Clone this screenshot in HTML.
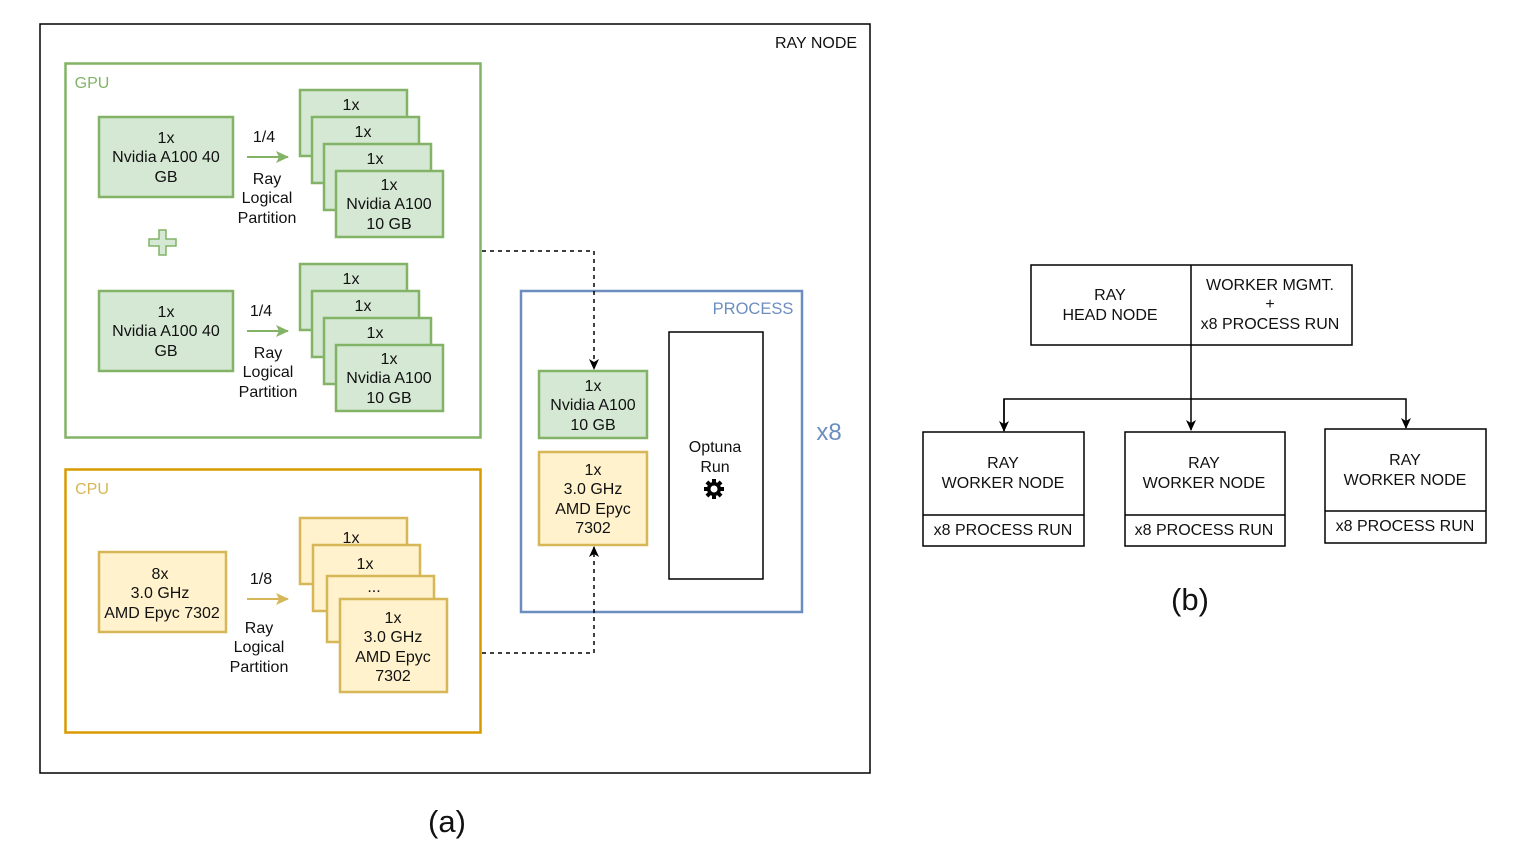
<!DOCTYPE html>
<html><head><meta charset="utf-8"><style>
html,body{margin:0;padding:0;background:#fff;}
svg{display:block;}
text{font-family:"Liberation Sans",Arial,sans-serif;font-size:16px;fill:#111;text-anchor:middle;}
</style></head><body>
<svg width="1526" height="864" viewBox="0 0 1526 864" xmlns="http://www.w3.org/2000/svg">
<defs>
<marker id="ab" markerWidth="12" markerHeight="12" refX="10" refY="6" orient="auto" markerUnits="userSpaceOnUse"><path d="M0,1 L11,6 L0,11 L3,6 z" fill="#000"/></marker>
<marker id="ag" markerWidth="14" markerHeight="14" refX="12" refY="7" orient="auto" markerUnits="userSpaceOnUse"><path d="M0,1 L13,7 L0,13 L3,7 z" fill="#82b366"/></marker>
<marker id="ay" markerWidth="14" markerHeight="14" refX="12" refY="7" orient="auto" markerUnits="userSpaceOnUse"><path d="M0,1 L13,7 L0,13 L3,7 z" fill="#d6b656"/></marker>
</defs>
<!-- (a) -->
<rect x="40" y="24" width="830" height="749" fill="none" stroke="#000" stroke-width="1.5"/>
<text x="816" y="48">RAY NODE</text>
<!-- GPU -->
<rect x="65.5" y="63.5" width="415" height="374" fill="none" stroke="#82b366" stroke-width="2.5"/>
<text x="92" y="88" style="fill:#82b366">GPU</text>
<g fill="#d5e8d4" stroke="#82b366" stroke-width="2.5">
<rect x="99" y="117" width="134" height="80"/>
<rect x="99" y="291" width="134" height="80"/>
<rect x="300" y="90" width="107" height="66"/>
<rect x="312" y="117" width="107" height="66"/>
<rect x="324" y="144" width="107" height="66"/>
<rect x="336" y="171" width="107" height="66"/>
<rect x="300" y="264" width="107" height="66"/>
<rect x="312" y="291" width="107" height="66"/>
<rect x="324" y="318" width="107" height="66"/>
<rect x="336" y="345" width="107" height="66"/>
<path d="M159,230 h7 v9 h10 v7 h-10 v9 h-7 v-9 h-10 v-7 h10 z" stroke-width="1.5"/>
</g>
<text x="166" y="143">1x</text><text x="166" y="162">Nvidia A100 40</text><text x="166" y="182">GB</text>
<text x="166" y="317">1x</text><text x="166" y="336">Nvidia A100 40</text><text x="166" y="356">GB</text>
<text x="351" y="110">1x</text><text x="363" y="137">1x</text><text x="375" y="164">1x</text>
<text x="389" y="190">1x</text><text x="389" y="209">Nvidia A100</text><text x="389" y="229">10 GB</text>
<text x="351" y="284">1x</text><text x="363" y="311">1x</text><text x="375" y="338">1x</text>
<text x="389" y="364">1x</text><text x="389" y="383">Nvidia A100</text><text x="389" y="403">10 GB</text>
<line x1="247" y1="157" x2="288" y2="157" stroke="#82b366" stroke-width="2" marker-end="url(#ag)"/>
<line x1="247" y1="331" x2="288" y2="331" stroke="#82b366" stroke-width="2" marker-end="url(#ag)"/>
<text x="264" y="142">1/4</text><text x="267" y="184">Ray</text><text x="267" y="203">Logical</text><text x="267" y="223">Partition</text>
<text x="261" y="316">1/4</text><text x="268" y="358">Ray</text><text x="268" y="377">Logical</text><text x="268" y="397">Partition</text>
<!-- CPU -->
<rect x="65.5" y="469.5" width="415" height="263" fill="none" stroke="#d79b00" stroke-width="2.5"/>
<text x="92" y="494" style="fill:#d6b656">CPU</text>
<g fill="#fff2cc" stroke="#d6b656" stroke-width="2.5">
<rect x="99" y="552" width="127" height="80"/>
<rect x="300" y="518" width="107" height="66"/>
<rect x="313" y="545" width="107" height="66"/>
<rect x="327" y="576" width="107" height="66"/>
<rect x="340" y="599" width="107" height="93"/>
</g>
<text x="160" y="579">8x</text><text x="160" y="598">3.0 GHz</text><text x="162" y="618">AMD Epyc 7302</text>
<text x="351" y="543">1x</text><text x="365" y="569">1x</text><text x="374" y="592">...</text>
<text x="393" y="623">1x</text><text x="393" y="642">3.0 GHz</text><text x="393" y="662">AMD Epyc</text><text x="393" y="681">7302</text>
<line x1="247" y1="599" x2="288" y2="599" stroke="#d6b656" stroke-width="2" marker-end="url(#ay)"/>
<text x="261" y="584">1/8</text><text x="259" y="633">Ray</text><text x="259" y="652">Logical</text><text x="259" y="672">Partition</text>
<!-- PROCESS -->
<rect x="521" y="291" width="281" height="321" fill="none" stroke="#6c8ebf" stroke-width="2.5"/>
<text x="753" y="314" style="fill:#6c8ebf;font-size:16.5px">PROCESS</text>
<text x="829" y="440" style="fill:#6c8ebf;font-size:24px">x8</text>
<rect x="539" y="371" width="108" height="67" fill="#d5e8d4" stroke="#82b366" stroke-width="2.5"/>
<rect x="539" y="452" width="108" height="93" fill="#fff2cc" stroke="#d6b656" stroke-width="2.5"/>
<text x="593" y="391">1x</text><text x="593" y="410">Nvidia A100</text><text x="593" y="430">10 GB</text>
<text x="593" y="475">1x</text><text x="593" y="494">3.0 GHz</text><text x="593" y="514">AMD Epyc</text><text x="593" y="533">7302</text>
<rect x="669" y="332" width="94" height="247" fill="none" stroke="#000" stroke-width="1.5"/>
<text x="715" y="452">Optuna</text><text x="715" y="472">Run</text>
<g transform="translate(714,489)" fill="#000">
<circle r="7"/>
<g><rect x="-2" y="-10" width="4" height="20"/><rect x="-2" y="-10" width="4" height="20" transform="rotate(45)"/><rect x="-2" y="-10" width="4" height="20" transform="rotate(90)"/><rect x="-2" y="-10" width="4" height="20" transform="rotate(135)"/></g>
<circle r="3.5" fill="#fff"/>
</g>
<path d="M482,251 H594 V369" fill="none" stroke="#000" stroke-width="1.5" stroke-dasharray="4,4" marker-end="url(#ab)"/>
<path d="M482,653 H594 V547" fill="none" stroke="#000" stroke-width="1.5" stroke-dasharray="4,4" marker-end="url(#ab)"/>
<text x="447" y="832" style="font-size:31px">(a)</text>
<!-- (b) -->
<g fill="none" stroke="#000" stroke-width="1.5">
<rect x="1031" y="265" width="321" height="80"/>
<line x1="1191" y1="265" x2="1191" y2="345"/>
<line x1="1191" y1="345" x2="1191" y2="430" marker-end="url(#ab)"/>
<path d="M1004,431 V399 H1406 V428" marker-end="url(#ab)"/>
<path d="M1004,399 V431" marker-end="url(#ab)"/>
<rect x="923" y="432" width="161" height="114"/><line x1="923" y1="515" x2="1084" y2="515"/>
<rect x="1125" y="432" width="160" height="114"/><line x1="1125" y1="515" x2="1285" y2="515"/>
<rect x="1325" y="429" width="161" height="114"/><line x1="1325" y1="511" x2="1486" y2="511"/>
</g>
<text x="1110" y="300">RAY</text><text x="1110" y="320">HEAD NODE</text>
<text x="1270" y="290">WORKER MGMT.</text><text x="1270" y="309">+</text><text x="1270" y="329">x8 PROCESS RUN</text>
<text x="1003" y="468">RAY</text><text x="1003" y="488">WORKER NODE</text><text x="1003" y="535">x8 PROCESS RUN</text>
<text x="1204" y="468">RAY</text><text x="1204" y="488">WORKER NODE</text><text x="1204" y="535">x8 PROCESS RUN</text>
<text x="1405" y="465">RAY</text><text x="1405" y="485">WORKER NODE</text><text x="1405" y="531">x8 PROCESS RUN</text>
<text x="1190" y="610" style="font-size:31px">(b)</text>
</svg>
</body></html>
